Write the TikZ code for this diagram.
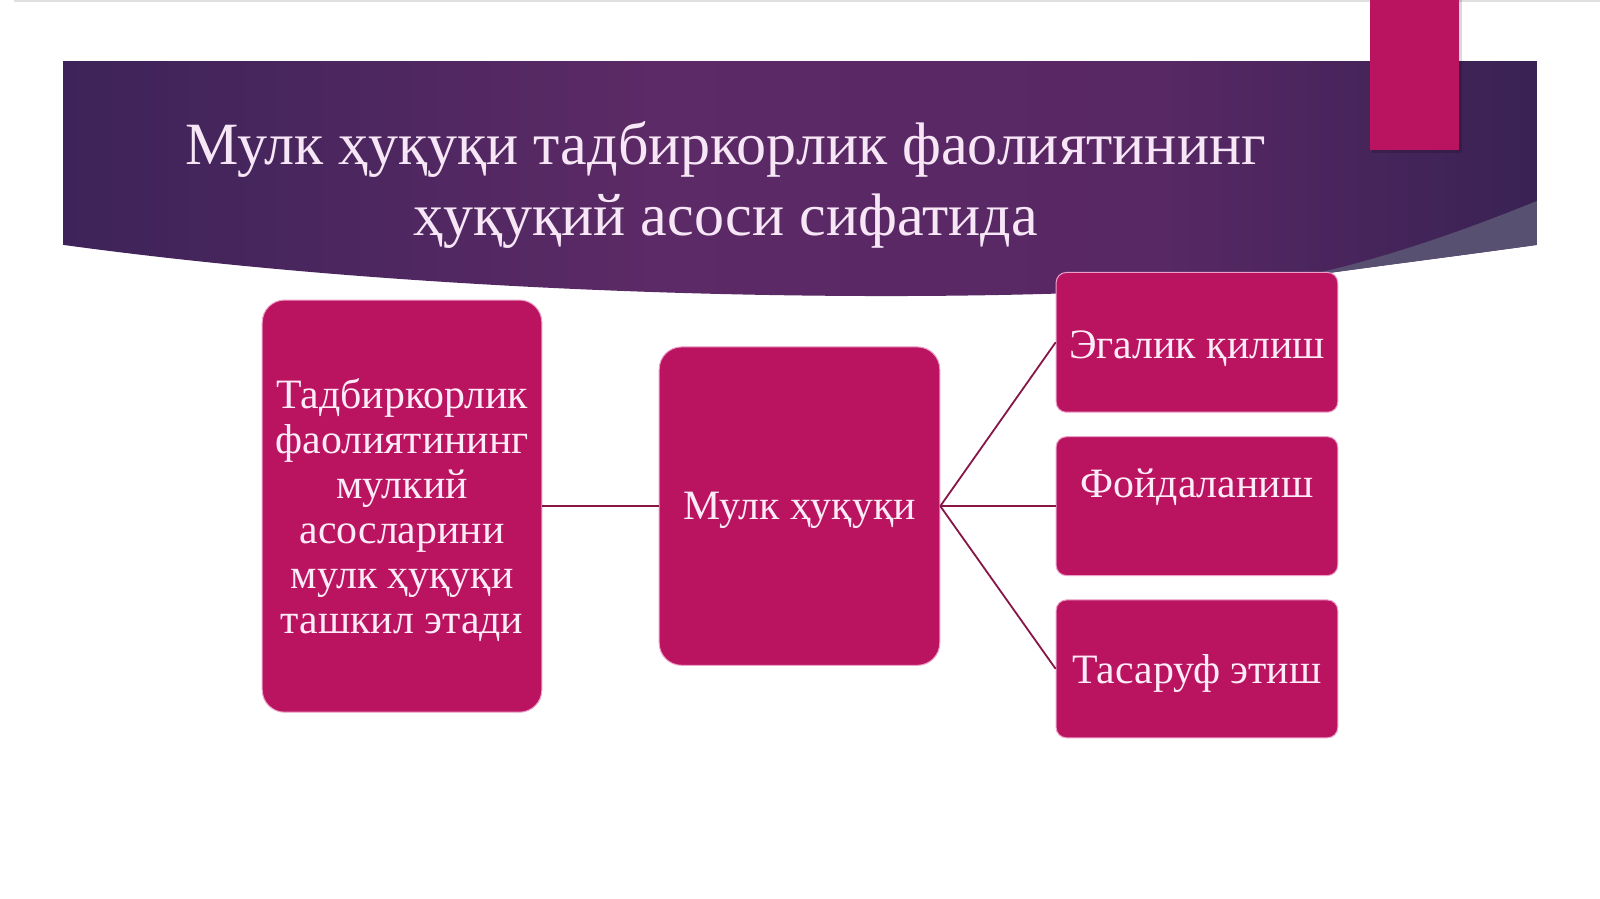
\documentclass[tikz,border=0pt]{standalone}
\usepackage{fontspec}
\setmainfont{Liberation Serif}
\definecolor{boxfill}{RGB}{186,20,96}
\definecolor{boxedge}{RGB}{236,160,200}
\definecolor{connc}{RGB}{135,22,70}
\definecolor{titletext}{RGB}{246,230,246}
\definecolor{boxtext}{RGB}{253,236,248}
\definecolor{bn1}{RGB}{38,30,76}
\definecolor{bn2}{RGB}{50,33,84}
\definecolor{bn3}{RGB}{92,42,102}
\definecolor{bn4}{RGB}{88,40,100}
\definecolor{bn5}{RGB}{45,32,78}
\definecolor{bn6}{RGB}{34,30,64}
\definecolor{wedgec}{RGB}{88,80,112}
\pgfdeclarehorizontalshading{bannershade}{100bp}{color(0bp)=(bn1); color(18bp)=(bn2); color(45bp)=(bn3); color(62bp)=(bn4); color(80bp)=(bn5); color(100bp)=(bn6)}
\tikzset{
  bigbox/.style={fill=boxfill, draw=boxedge, line width=1pt, rounded corners=22.4pt,
    text=boxtext, font=\fontsize{41.8}{45}\selectfont, align=center, inner sep=4pt,
    text depth=0pt},
  smallbox/.style={bigbox, rounded corners=10.2pt, minimum width=281.6pt},
  connline/.style={draw=connc, line width=1.8pt},
  titlestyle/.style={text=titletext, font=\fontsize{60}{72}\selectfont, inner sep=0pt, anchor=base}
}
\begin{document}
\begin{tikzpicture}[x=1.0204pt,y=-1.0204pt]
\useasboundingbox (0,0) rectangle (1568,881);
\fill[white] (0,0) rectangle (1568,881);
\draw[gray!25, line width=1.5pt] (14,1) -- (1568,1);
% banner
\shade[shading=bannershade] (62,60) -- (1506,60) -- (1506,240)
  .. controls (1420,252) and (1340,262) .. (1270,272)
  .. controls (1050,300) and (500,300) .. (62,240) -- cycle;
\fill[wedgec] (1506,197) .. controls (1420,232) and (1340,258) .. (1270,272)
  .. controls (1340,262) and (1420,252) .. (1506,240) -- cycle;
% accent
\fill[black, opacity=0.15] (1345,0) rectangle (1433,150);
\fill[boxfill] (1343,0) rectangle (1430,147);
% title
\node[titlestyle] (title1) at (711,161) {Мулк ҳуқуқи тадбиркорлик фаолиятининг};
\node[titlestyle] (title2) at (711,231) {ҳуқуқий асоси сифатида};
% boxes
\node[bigbox, minimum width=279.6pt, minimum height=412.2pt] (L) at (394,496)
  {Тадбиркорлик\\фаолиятининг\\мулкий\\асосларини\\мулк ҳуқуқи\\ташкил этади};
\node[bigbox, minimum width=280.6pt, minimum height=318.4pt] (C) at (783.5,496) {Мулк ҳуқуқи};
\node[smallbox, minimum height=139.8pt, text height=33pt] (R1) at (1173,335.5) {Эгалик қилиш};
\node[smallbox, minimum height=138.8pt, text height=29pt, text depth=47pt] (R2) at (1173,496) {Фойдаланиш};
\node[smallbox, minimum height=137.8pt] (R3) at (1173,655.5) {Тасаруф этиш};
% connectors
\draw[connline] (L.east) -- (C.west);
\draw[connline] (C.east) -- (R1.west);
\draw[connline] (C.east) -- (R2.west);
\draw[connline] (C.east) -- (R3.west);
\end{tikzpicture}
\end{document}
